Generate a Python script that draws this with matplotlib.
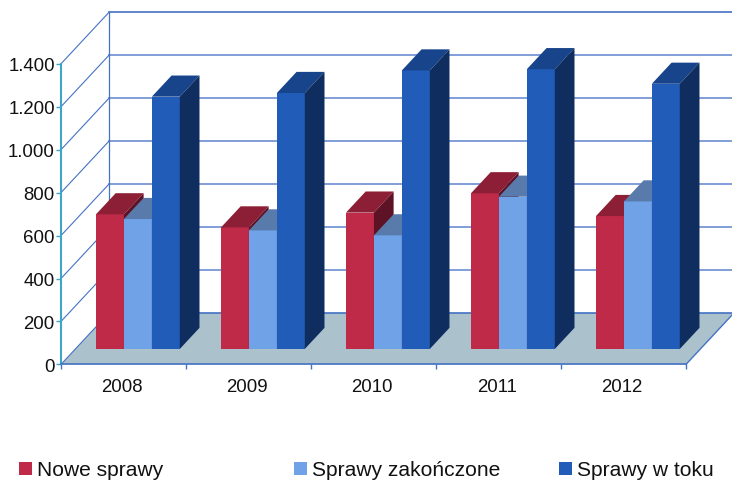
import matplotlib
matplotlib.use("Agg")
import matplotlib.pyplot as plt
from matplotlib.patches import Polygon, Rectangle

plt.rcParams['font.family'] = ['Liberation Sans', 'DejaVu Sans']

W, H = 732, 481

years = ["2008", "2009", "2010", "2011", "2012"]
nowe = [627, 566, 635, 725, 619]
zakonczone = [605, 552, 529, 709, 687]
w_toku = [1175, 1192, 1297, 1303, 1235]
labels = ["Nowe sprawy", "Sprawy zakończone", "Sprawy w toku"]
yticks = [0, 200, 400, 600, 800, 1000, 1200, 1400]
ytick_labels = ["0", "200", "400", "600", "800", "1.000", "1.200", "1.400"]

# front, top, side colour of each series
colors = [("#BE2A48", "#8C1F36", "#5E1226"),
          ("#70A2E8", "#587BAC", "#3F5F8F"),
          ("#205CB8", "#17448A", "#0F2D5E")]

GRID = "#6C8DD2"
AXIS_BLUE = "#4472C4"
AXIS_TEAL = "#3FA5C6"
FLOOR = "#ABC2CD"
TXT = "#111111"

# how far the back wall is shifted from the front, in data units
DX = 48 / 125
DY = 51.5 * 1400 / 300.5
BAR_D0 = 0.30    # depth where bars start
BAR_D1 = 0.71    # depth where bars end
BAR_W = 0.2235
BAR_START = 0.28


def pr(x, y, d):
    return (x + d * DX, y + d * DY)


fig = plt.figure(figsize=(W / 100, H / 100), dpi=100)
ax = fig.add_axes([61 / W, (H - 365.4) / H, 625 / W, 300.6 / H])
ax.set_xlim(0, 5)
ax.set_ylim(0, 1400)
ax.patch.set_visible(False)

# floor
ax.add_patch(Polygon([pr(0, 0, 0), pr(5, 0, 0), pr(5, 0, 1), pr(0, 0, 1)],
                     facecolor=FLOOR, edgecolor="none", clip_on=False, zorder=1))

# walls and grid
for v in yticks:
    col = AXIS_BLUE if v in (0, 1400) else GRID
    ax.plot(*zip(pr(0, v, 1), pr(5, v, 1)), color=col, lw=1.2,
            clip_on=False, zorder=2)
    ax.plot(*zip(pr(0, v, 0), pr(0, v, 1)), color=AXIS_BLUE, lw=0.8,
            clip_on=False, zorder=2)
ax.plot(*zip(pr(0, 0, 1), pr(0, 1400, 1)), color=AXIS_BLUE, lw=0.9,
        clip_on=False, zorder=2)
ax.plot(*zip(pr(5, 0, 0), pr(5, 0, 1)), color=AXIS_BLUE, lw=1.0,
        clip_on=False, zorder=2)

# bars, left to right so later ones cover the earlier side faces
z = 3
for i in range(len(years)):
    for j, vals in enumerate([nowe, zakonczone, w_toku]):
        x0 = i + BAR_START - BAR_D0 * DX + j * BAR_W
        x1 = x0 + BAR_W
        v = vals[i]
        front, top, side = colors[j]
        base = BAR_D0 * DY
        ax.bar(x0 + BAR_D0 * DX, v, BAR_W, bottom=base, align="edge",
               color=front, linewidth=0, clip_on=False, zorder=z)
        ax.add_patch(Polygon([pr(x0, v, BAR_D0), pr(x1, v, BAR_D0),
                              pr(x1, v, BAR_D1), pr(x0, v, BAR_D1)],
                             facecolor=top, edgecolor="none", clip_on=False, zorder=z))
        ax.add_patch(Polygon([pr(x1, 0, BAR_D0), pr(x1, v, BAR_D0),
                              pr(x1, v, BAR_D1), pr(x1, 0, BAR_D1)],
                             facecolor=side, edgecolor="none", clip_on=False, zorder=z))
        z += 1

# axes
for s in ["top", "right"]:
    ax.spines[s].set_visible(False)
ax.spines["left"].set_color(AXIS_TEAL)
ax.spines["left"].set_linewidth(1.5)
ax.spines["bottom"].set_color(AXIS_BLUE)
ax.spines["bottom"].set_linewidth(1.2)
ax.spines["left"].set_zorder(50)
ax.spines["bottom"].set_zorder(50)

ax.set_yticks(yticks)
ax.set_yticklabels(ytick_labels, fontsize=13.4, color=TXT)
ax.tick_params(axis="y", length=3.5, width=1.0, color=AXIS_TEAL, pad=1.0)

ax.set_xticks(range(len(years) + 1))
ax.set_xticklabels([""] * (len(years) + 1))
ax.tick_params(axis="x", which="major", length=3.5, width=1.0, color=AXIS_BLUE)
ax.set_xticks([i + 0.487 for i in range(len(years))], minor=True)
ax.set_xticklabels(years, minor=True, fontsize=13.4, color=TXT)
ax.tick_params(axis="x", which="minor", length=0, pad=10)

# legend
swatch_x = [19, 294, 559]
for sx, lab, c in zip(swatch_x, labels, colors):
    fig.add_artist(Rectangle((sx / W, (H - 476) / H), 13 / W, 13 / H,
                             transform=fig.transFigure, facecolor=c[0], edgecolor="none"))
    fig.text((sx + 18) / W, (H - 470.5) / H, lab, fontsize=15.1, color=TXT,
             ha="left", va="center")

fig.savefig("out.png", dpi=100)
